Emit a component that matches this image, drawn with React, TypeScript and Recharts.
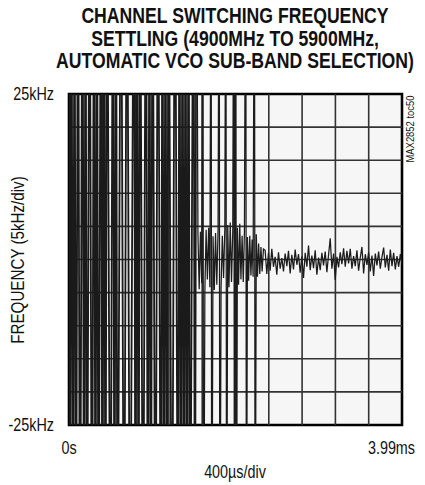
import React from "react";
import { LineChart, Line, XAxis, YAxis, ReferenceLine, ReferenceArea } from "recharts";

// time in ms, frequency error in kHz
const acquisition: [number, number][] = [
  [0, 60], [0.012, -60], [0.03, 60], [0.048, -60], [0.066, 60], [0.084, -60], [0.108, 60], [0.132, -60],
  [0.162, 60], [0.18, -60], [0.198, 60], [0.216, -60], [0.246, 60], [0.276, -60], [0.3, 60], [0.317, -60],
  [0.335, 60], [0.353, -60], [0.383, 60], [0.401, -60], [0.419, 60], [0.437, -60], [0.455, 60], [0.497, -60],
  [0.527, 60], [0.545, -60], [0.563, 60], [0.581, -60], [0.623, 60], [0.659, -60], [0.695, 60], [0.731, -60],
  [0.779, 60], [0.797, -60], [0.815, 60], [0.833, -60], [0.851, 60], [0.887, -60], [0.922, 60], [0.946, -60],
  [0.964, 60], [0.982, -60], [1.0, 60], [1.036, -60], [1.066, 60], [1.102, -60], [1.12, 60], [1.138, -60],
  [1.156, 60], [1.174, -60], [1.192, 60], [1.234, -60], [1.27, 60], [1.306, -60], [1.324, 60], [1.342, -60],
  [1.36, 60], [1.378, -60], [1.396, 60], [1.414, -60], [1.432, 60], [1.45, -60], [1.492, 60], [1.509, -60],
  [1.527, 60],
];

const ringing: [number, number][] = [
  [1.545, 3.8], [1.56, -4.5], [1.575, 4.2], [1.59, -3.6], [1.605, 60], [1.612, -60], [1.628, -4.8],
  [1.643, 4.5], [1.658, -3.0], [1.673, 4.8], [1.688, -4.2], [1.703, 60], [1.71, -60], [1.726, 3.5],
  [1.741, -4.6], [1.756, 4.0], [1.771, -3.8], [1.786, 4.4], [1.8, 60], [1.807, -60], [1.822, -4.4],
  [1.837, 3.6], [1.852, -2.8], [1.867, 4.6], [1.88, 60], [1.888, -60], [1.902, 5.2], [1.917, -4.2],
  [1.932, 5.6], [1.947, -3.4], [1.962, 4.2], [1.975, 60], [1.982, -60], [1.996, 60], [2.006, -60],
  [2.018, 4.8], [2.032, -3.8], [2.046, 5.4], [2.06, -3.0], [2.074, 3.6], [2.088, -3.4], [2.102, 4.2],
  [2.118, 60], [2.126, -60], [2.138, 3.4], [2.152, -3.2], [2.166, 3.6], [2.18, -2.4], [2.194, 3.0],
  [2.206, -2.6], [2.222, 60], [2.23, -60], [2.244, 3.8], [2.258, -2.6], [2.272, 2.4], [2.286, -2.2],
  [2.3, 1.9], [2.314, -1.8], [2.33, 1.6],
];

const settled: [number, number][] = [
  [2.35, 1.4], [2.37, -2.2], [2.39, 1.0], [2.41, -1.7], [2.43, 1.6], [2.45, -1.1], [2.47, 0.4], [2.49, -2.3],
  [2.51, 1.1], [2.53, -1.4], [2.55, 0.2], [2.57, -1.8], [2.59, 0.9], [2.61, -1.0], [2.63, 1.3], [2.65, -2.1],
  [2.67, 0.7], [2.69, -1.5], [2.71, 1.5], [2.73, -0.8], [2.75, 0.8], [2.77, -2.0], [2.79, 0.5], [2.81, -2.8],
  [2.83, 1.0], [2.85, -1.1], [2.87, 2.1], [2.89, -1.6], [2.91, 0.6], [2.93, -1.3], [2.95, 1.4], [2.97, -2.3],
  [2.99, 0.3], [3.01, -1.6], [3.03, 1.0], [3.05, -0.9], [3.07, 1.2], [3.09, -1.9], [3.11, 0.7], [3.13, 3.2],
  [3.15, -1.4], [3.17, 0.9], [3.19, -3.1], [3.21, 0.4], [3.23, -1.2], [3.25, 1.1], [3.27, -0.7], [3.29, 1.7],
  [3.31, -1.1], [3.33, 1.3], [3.35, -0.6], [3.37, 1.6], [3.39, -1.4], [3.41, 0.5], [3.43, -1.0], [3.45, 1.4],
  [3.47, -1.7], [3.49, 0.3], [3.51, 1.9], [3.53, -2.1], [3.55, 0.8], [3.57, -0.8], [3.59, 1.1], [3.61, -1.8],
  [3.63, 0.6], [3.65, -2.5], [3.67, 0.9], [3.69, -0.9], [3.71, 1.2], [3.73, -1.4], [3.75, 0.4], [3.77, 1.8],
  [3.79, -1.2], [3.81, 0.7], [3.83, -1.7], [3.85, 1.5], [3.87, -1.0], [3.89, 1.0], [3.91, -1.5], [3.93, 0.5],
  [3.95, -1.1], [3.97, 0.8], [3.99, -0.8],
];

const gridTimes = [0.399, 0.798, 1.197, 1.596, 1.995, 2.394, 2.793, 3.192, 3.591];
const gridFreqs = [-20, -15, -10, -5, 0, 5, 10, 15, 20];
const xTicks = [0, 3.99];
const xTickLabels = ["0s", "3.99ms"];
const yTicks = [-25, 25];
const yTickLabels = ["-25kHz", "25kHz"];

const titleLines = [
  "CHANNEL SWITCHING FREQUENCY",
  "SETTLING (4900MHz TO 5900MHz,",
  "AUTOMATIC VCO SUB-BAND SELECTION)",
];

const toRows = (arr: [number, number][]) => arr.map(([t, f]) => ({ t, f }));
const acqRows = toRows(acquisition);
const tailRows = toRows([acquisition[acquisition.length - 1], ...ringing, ...settled]);

const FONT = "'Liberation Sans', Arial, sans-serif";
const NARROW = 0.82;

const XTick = (props: any) => {
  const { x, y, payload } = props;
  const isLast = payload.value === xTicks[xTicks.length - 1];
  return (
    <text
      transform={`translate(${isLast ? x + 13 : x},${y}) scale(${NARROW},1)`}
      textAnchor={isLast ? "end" : "middle"}
      dy="0.71em"
      fill="#111"
      fontSize={17.5}
      fontFamily={FONT}
    >
      {xTickLabels[xTicks.indexOf(payload.value)]}
    </text>
  );
};

const YTick = (props: any) => {
  const { x, y, payload } = props;
  return (
    <text
      transform={`translate(${x},${y}) scale(${NARROW},1)`}
      textAnchor="end"
      dy="0.355em"
      fill="#111"
      fontSize={17.5}
      fontFamily={FONT}
    >
      {yTickLabels[yTicks.indexOf(payload.value)]}
    </text>
  );
};

export default function App() {
  return (
    <div style={{ position: "relative", width: 417, height: 477, fontFamily: FONT, color: "#111" }}>
      <style>{"html,body{overflow:hidden}"}</style>
      <div
        style={{
          position: "absolute",
          left: -3,
          top: -3,
          width: 460,
          textAlign: "center",
          fontWeight: "bold",
          fontSize: 21.5,
          lineHeight: "22.5px",
          whiteSpace: "nowrap",
          transform: `scaleX(${NARROW})`,
          transformOrigin: "50% 50%",
        }}
      >
        {titleLines.map((l) => (
          <div key={l}>{l}</div>
        ))}
      </div>
      <LineChart width={417} height={477} margin={{ top: 86, right: 23, bottom: 30, left: 0 }}>
        <ReferenceArea x1={0} x2={3.99} y1={-25} y2={25} fill="#f6f6f6" fillOpacity={1} stroke="none" />
        {gridTimes.map((t) => (
          <ReferenceLine key={"gx" + t} x={t} stroke="#333" strokeWidth={1.6} />
        ))}
        {gridFreqs.map((f) => (
          <ReferenceLine key={"gy" + f} y={f} stroke="#333" strokeWidth={1.6} />
        ))}
        <XAxis
          dataKey="t"
          type="number"
          domain={[0, 3.99]}
          ticks={xTicks}
          interval={0}
          allowDataOverflow
          height={30}
          axisLine={false}
          tickLine={false}
          tickSize={0}
          tickMargin={17}
          tick={XTick}
        />
        <YAxis
          type="number"
          domain={[-25, 25]}
          ticks={yTicks}
          interval={0}
          allowDataOverflow
          width={61}
          axisLine={false}
          tickLine={false}
          tickSize={0}
          tickMargin={15}
          tick={YTick}
        />
        <Line
          data={acqRows}
          dataKey="f"
          type="linear"
          stroke="#1a1a1a"
          strokeWidth={1.8}
          dot={false}
          isAnimationActive={false}
        />
        <Line
          data={tailRows}
          dataKey="f"
          type="linear"
          stroke="#1c1c1c"
          strokeWidth={1.25}
          dot={false}
          isAnimationActive={false}
        />
        <ReferenceArea x1={0} x2={3.99} y1={-25} y2={25} fill="none" stroke="#000" strokeWidth={2.6} />
      </LineChart>
      <div
        style={{
          position: "absolute",
          left: 10,
          top: 252,
          transform: `translate(-50%, -50%) rotate(-90deg) scaleX(${NARROW})`,
          fontSize: 18.5,
          whiteSpace: "nowrap",
        }}
      >
        FREQUENCY (5kHz/div)
      </div>
      <div
        style={{
          position: "absolute",
          left: 402,
          top: 121,
          transform: `translate(-50%, -50%) rotate(-90deg) scaleX(${NARROW})`,
          fontSize: 11.5,
          whiteSpace: "nowrap",
        }}
      >
        MAX2852 toc50
      </div>
      <div
        style={{
          position: "absolute",
          left: 227,
          top: 464,
          transform: `translate(-50%, -50%) scaleX(${NARROW})`,
          fontSize: 17.5,
          whiteSpace: "nowrap",
        }}
      >
        400µs/div
      </div>
    </div>
  );
}
